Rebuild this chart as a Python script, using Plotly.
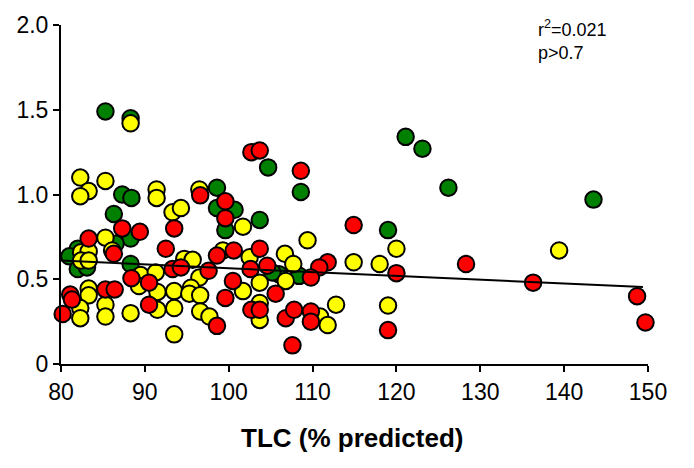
import plotly.graph_objects as go

# TLC (% predicted) vs. outcome value, grouped by category colour
green_x = [85.3, 88.3, 121.1, 123.1, 126.2, 143.5, 104.7, 108.6, 98.6, 98.6, 100.7, 99.6, 103.7,
           119.0, 87.3, 88.4, 86.3, 88.3, 86.5, 82.0, 81.0, 82.0, 83.1, 88.3, 106.0, 108.4, 105.2]
green_y = [1.49, 1.45, 1.34, 1.27, 1.04, 0.97, 1.16, 1.015, 1.04, 0.92, 0.91, 0.79, 0.85,
           0.79, 1.00, 0.98, 0.885, 0.74, 0.71, 0.68, 0.635, 0.56, 0.57, 0.59, 0.53, 0.52, 0.54]

yellow_x = [88.3, 82.3, 83.3, 82.3, 85.3, 91.4, 91.4, 93.3, 94.3, 85.3, 82.4, 83.3, 82.4, 83.3,
            86.1, 94.7, 95.7, 89.5, 91.3, 89.3, 91.5, 93.5, 91.5, 93.5, 93.5, 88.3, 85.3, 85.3,
            83.3, 83.3, 82.3, 82.3, 96.5, 101.7, 109.4, 99.3, 102.5, 106.7, 107.7, 96.5, 103.7,
            106.8, 101.7, 95.5, 95.3, 96.6, 96.6, 97.7, 103.7, 103.7, 120.0, 114.9, 118.0, 112.8,
            119.0, 110.9, 111.8, 139.4]
yellow_y = [1.42, 1.10, 1.02, 0.99, 1.08, 1.03, 0.98, 0.895, 0.92, 0.745, 0.66, 0.665, 0.61, 0.61,
            0.67, 0.62, 0.615, 0.525, 0.54, 0.46, 0.425, 0.43, 0.32, 0.33, 0.175, 0.30, 0.35, 0.28,
            0.445, 0.405, 0.33, 0.27, 1.03, 0.81, 0.73, 0.67, 0.63, 0.65, 0.59, 0.51, 0.48,
            0.49, 0.43, 0.45, 0.415, 0.405, 0.31, 0.28, 0.36, 0.26, 0.68, 0.60, 0.59, 0.35,
            0.345, 0.28, 0.23, 0.67]

red_x = [102.7, 103.7, 108.6, 96.6, 99.6, 99.6, 87.3, 89.4, 93.5, 83.3, 86.3, 92.5, 93.3, 94.3,
         88.4, 90.5, 90.5, 85.3, 86.4, 81.1, 81.3, 80.2, 100.6, 103.7, 98.6, 104.6, 102.6, 97.6,
         100.5, 105.6, 99.6, 98.6, 102.7, 103.7, 106.8, 107.8, 107.6, 114.9, 111.8, 110.8, 109.8,
         120.0, 119.0, 109.8, 109.8, 128.3, 136.3, 148.7, 149.7]
red_y = [1.25, 1.26, 1.14, 0.995, 0.96, 0.86, 0.80, 0.78, 0.80, 0.74, 0.65, 0.68, 0.56, 0.57,
         0.506, 0.48, 0.35, 0.44, 0.44, 0.41, 0.38, 0.295, 0.67, 0.68, 0.64, 0.58, 0.56, 0.55,
         0.49, 0.415, 0.39, 0.225, 0.32, 0.32, 0.27, 0.32, 0.11, 0.82, 0.60, 0.57, 0.51,
         0.536, 0.20, 0.31, 0.25, 0.59, 0.48, 0.40, 0.245]

# Regression line end points
fit_x = [80.0, 149.4]
fit_y = [0.61, 0.454]

x_ticks = [80, 90, 100, 110, 120, 130, 140, 150]
y_ticks = [0, 0.5, 1.0, 1.5, 2.0]
y_tick_text = ["0", "0.5", "1.0", "1.5", "2.0"]

FONT = "Liberation Sans, Arial, sans-serif"

fig = go.Figure()

for xs, ys, col in [(green_x, green_y, "#008000"),
                    (yellow_x, yellow_y, "#FFFF00"),
                    (red_x, red_y, "#FF0000")]:
    fig.add_trace(go.Scatter(
        x=xs, y=ys, mode="markers", cliponaxis=False, showlegend=False,
        marker=dict(size=16.5, color=col, line=dict(color="black", width=2)),
    ))

fig.add_trace(go.Scatter(
    x=fit_x, y=fit_y, mode="lines", cliponaxis=False, showlegend=False,
    line=dict(color="black", width=2),
))

fig.update_layout(
    width=694, height=468,
    margin=dict(l=61, r=46, t=16, b=104),
    paper_bgcolor="white", plot_bgcolor="white",
    font=dict(family=FONT, color="black", size=23),
    xaxis=dict(range=[80, 150], tickvals=x_ticks, showgrid=False, zeroline=False,
               showline=True, linecolor="black", linewidth=2,
               ticks="outside", ticklen=6, tickwidth=2, tickcolor="black",
               tickfont=dict(size=23)),
    yaxis=dict(range=[0, 2], tickvals=y_ticks, ticktext=y_tick_text, showgrid=False,
               zeroline=False, showline=True, linecolor="black", linewidth=2,
               ticks="outside", ticklen=6, tickwidth=2, tickcolor="black",
               tickfont=dict(size=23)),
    annotations=[
        dict(text="<b>TLC (% predicted)</b>", xref="paper", yref="paper",
             x=0.495, y=-0.218, xanchor="center", yanchor="middle",
             showarrow=False, font=dict(size=26, family=FONT)),
        dict(text="r<sup>2</sup>=0.021<br>p&gt;0.7", xref="paper", yref="paper",
             x=0.809, y=1.03, xanchor="left", yanchor="top", align="left",
             showarrow=False, font=dict(size=18, family=FONT)),
    ],
)

fig.write_html("out.html")
